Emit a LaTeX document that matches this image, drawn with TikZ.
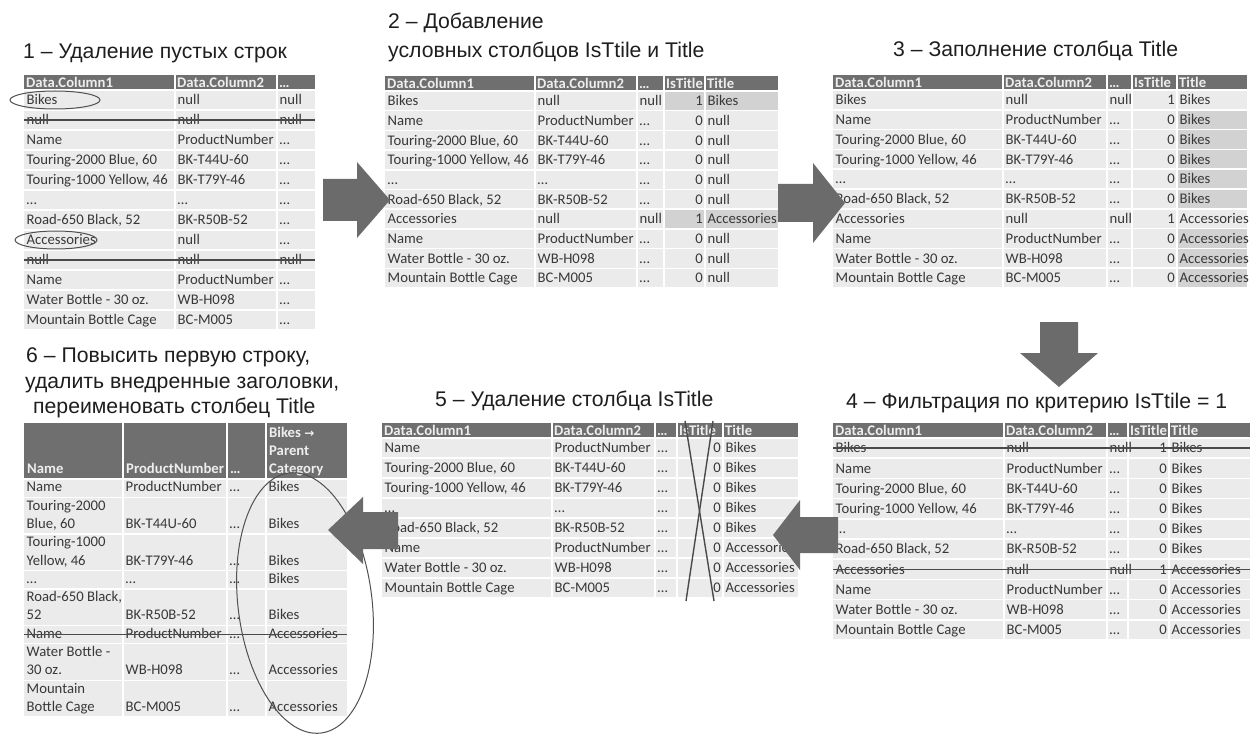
\documentclass[tikz,border=0pt]{standalone}
\usepackage{fontspec}
\newfontfamily\tabfont{Carlito}
\newfontfamily\titfont{Liberation Sans}
\newfontfamily\symfont{DejaVu Sans}
\definecolor{cellbg}{HTML}{EBEBEB}
\definecolor{hdrbg}{HTML}{6F6F6F}
\definecolor{hdrtxt}{HTML}{EEEEEE}
\definecolor{hlbg}{HTML}{D2D2D2}
\definecolor{txtc}{HTML}{383838}
\definecolor{strikec}{HTML}{4A4A4A}
\definecolor{arrc}{HTML}{6B6B6B}
\definecolor{ellc}{HTML}{505050}
\definecolor{ttlc}{HTML}{1E1E1E}
\tikzset{
  txt/.style={inner sep=0pt, font=\tabfont\fontsize{14.7}{17}\selectfont, text=txtc},
  hdr/.style={inner sep=0pt, font=\tabfont\bfseries\fontsize{14.7}{17}\selectfont, text=hdrtxt},
  ttl/.style={inner sep=0pt, font=\titfont\fontsize{21.2}{25}\selectfont, text=ttlc},
  sep/.style={white, line width=1.5pt},
  strk/.style={draw=strikec, line width=1.4pt},
  arr/.style={fill=arrc},
  ell/.style={draw=ellc, line width=1pt}
}
% table helpers
\newcommand\celltext[3]{\node[txt,anchor=base west] at ({#1+2.5},{\tT+\hH+(#2-0.5)*\rH+4.8}) {#3};}
\newcommand\celltextr[3]{\node[txt,anchor=base east] at ({#1-2},{\tT+\hH+(#2-0.5)*\rH+4.8}) {#3};}
\newcommand\hdrtext[2]{\node[hdr,anchor=base west] at ({#1+2},{\tT+\hH/2+4.8}) {#2};}
\newcommand\tabbg[3]{\fill[cellbg] (#1,{\tT+\hH}) rectangle (#2,{\tT+\hH+#3*\rH});
  \fill[hdrbg] (#1,\tT) rectangle (#2,{\tT+\hH});}
\newcommand\tabgrid[4]{\foreach \k in {0,...,#3}{\draw[sep] (#1,{\tT+\hH+\k*\rH}) -- (#2,{\tT+\hH+\k*\rH});}
  \foreach \xx in {#4}{\draw[sep] (\xx,\tT) -- (\xx,{\tT+\hH+#3*\rH});}}
\newcommand\hlcell[3]{\fill[hlbg] (#1,{\tT+\hH+(#3-1)*\rH}) rectangle (#2,{\tT+\hH+#3*\rH});}
\newcommand\strikerow[3]{\draw[strk] (#1,{\tT+\hH+(#3-0.5)*\rH}) -- (#2,{\tT+\hH+(#3-0.5)*\rH});}
\newcommand\rowIII[4]{\celltext{\colA}{#1}{#2}\celltext{\colB}{#1}{#3}\celltext{\colC}{#1}{#4}}
\newcommand\rowV[6]{\celltext{\colA}{#1}{#2}\celltext{\colB}{#1}{#3}\celltext{\colC}{#1}{#4}\celltextr{\colE}{#1}{#5}\celltext{\colE}{#1}{#6}}
\newcommand\hdrV{\hdrtext{\colA}{Data.Column1}\hdrtext{\colB}{Data.Column2}\hdrtext{\colC}{…}\hdrtext{\colD}{IsTitle}\hdrtext{\colE}{Title}}
\newcommand\sixcell[3]{\node[txt,anchor=base west] at ({#1+2.5},#2) {#3};}
\begin{document}
\begin{tikzpicture}[x=1pt,y=-1pt]
\fill[white] (0,0) rectangle (1252,735);
\useasboundingbox (0,0) rectangle (1252,735);

% ---------- titles
\node[ttl,anchor=base west] (t1) at (23,59) {1 – Удаление пустых строк};
\node[ttl,anchor=base west] (t2a) at (388,29) {2 – Добавление};
\node[ttl,anchor=base west] (t2b) at (388,58) {условных столбцов IsTtile и Title};
\node[ttl,anchor=base west] (t3) at (893,57) {3 – Заполнение столбца Title};
\node[ttl,anchor=base west] (t4) at (846,408) {4 – Фильтрация по критерию IsTtile = 1};
\node[ttl,anchor=base west] (t5) at (435,406) {5 – Удаление столбца IsTitle};
\node[ttl,anchor=base west] (t6a) at (26,362) {6 – Повысить первую строку,};
\node[ttl,anchor=base west] (t6b) at (25,388) {удалить внедренные заголовки,};
\node[ttl,anchor=base west] (t6c) at (33,413) {переименовать столбец Title};

% ---------- table 1
\def\tT{75}\def\hH{15}\def\rH{20}
\def\colA{24}\def\colB{175}\def\colC{277}
\tabbg{24}{315}{12}
\tabgrid{24}{315}{12}{175,277}
\hdrtext{\colA}{Data.Column1}\hdrtext{\colB}{Data.Column2}\hdrtext{\colC}{…}
\rowIII{1}{Bikes}{null}{null}
\rowIII{2}{null}{null}{null}
\rowIII{3}{Name}{ProductNumber}{…}
\rowIII{4}{Touring-2000 Blue, 60}{BK-T44U-60}{…}
\rowIII{5}{Touring-1000 Yellow, 46}{BK-T79Y-46}{…}
\rowIII{6}{…}{…}{…}
\rowIII{7}{Road-650 Black, 52}{BK-R50B-52}{…}
\rowIII{8}{Accessories}{null}{…}
\rowIII{9}{null}{null}{null}
\rowIII{10}{Name}{ProductNumber}{…}
\rowIII{11}{Water Bottle - 30 oz.}{WB-H098}{…}
\rowIII{12}{Mountain Bottle Cage}{BC-M005}{…}
\strikerow{24}{315}{2}
\strikerow{24}{315}{9}
\draw[ell] (55,100) ellipse [x radius=45pt, y radius=9pt];
\draw[ell] (56,240) ellipse [x radius=41pt, y radius=9pt];

% ---------- table 2
\def\tT{76}\def\hH{15}\def\rH{19.7}
\def\colA{385}\def\colB{535}\def\colC{637}\def\colD{664}\def\colE{705}
\tabbg{385}{778}{10}
\hlcell{664}{778}{1}\hlcell{664}{778}{7}
\tabgrid{385}{778}{10}{535,637,664,705}
\hdrV
\rowV{1}{Bikes}{null}{null}{1}{Bikes}
\rowV{2}{Name}{ProductNumber}{…}{0}{null}
\rowV{3}{Touring-2000 Blue, 60}{BK-T44U-60}{…}{0}{null}
\rowV{4}{Touring-1000 Yellow, 46}{BK-T79Y-46}{…}{0}{null}
\rowV{5}{…}{…}{…}{0}{null}
\rowV{6}{Road-650 Black, 52}{BK-R50B-52}{…}{0}{null}
\rowV{7}{Accessories}{null}{null}{1}{Accessories}
\rowV{8}{Name}{ProductNumber}{…}{0}{null}
\rowV{9}{Water Bottle - 30 oz.}{WB-H098}{…}{0}{null}
\rowV{10}{Mountain Bottle Cage}{BC-M005}{…}{0}{null}

% ---------- table 3
\def\tT{75}\def\hH{15}\def\rH{19.8}
\def\colA{833}\def\colB{1003}\def\colC{1107}\def\colD{1132}\def\colE{1177}
\tabbg{833}{1247}{10}
\foreach \r in {2,...,6}{\hlcell{1177}{1247}{\r}}
\foreach \r in {8,...,10}{\hlcell{1177}{1247}{\r}}
\tabgrid{833}{1247}{10}{1003,1107,1132,1177}
\hdrV
\rowV{1}{Bikes}{null}{null}{1}{Bikes}
\rowV{2}{Name}{ProductNumber}{…}{0}{Bikes}
\rowV{3}{Touring-2000 Blue, 60}{BK-T44U-60}{…}{0}{Bikes}
\rowV{4}{Touring-1000 Yellow, 46}{BK-T79Y-46}{…}{0}{Bikes}
\rowV{5}{…}{…}{…}{0}{Bikes}
\rowV{6}{Road-650 Black, 52}{BK-R50B-52}{…}{0}{Bikes}
\rowV{7}{Accessories}{null}{null}{1}{Accessories}
\rowV{8}{Name}{ProductNumber}{…}{0}{Accessories}
\rowV{9}{Water Bottle - 30 oz.}{WB-H098}{…}{0}{Accessories}
\rowV{10}{Mountain Bottle Cage}{BC-M005}{…}{0}{Accessories}

% ---------- table 4
\def\tT{423}\def\hH{15}\def\rH{20.2}
\def\colA{833}\def\colB{1004}\def\colC{1107}\def\colD{1128}\def\colE{1169}
\tabbg{833}{1250}{10}
\tabgrid{833}{1250}{10}{1004,1107,1128,1169}
\hdrV
\rowV{1}{Bikes}{null}{null}{1}{Bikes}
\rowV{2}{Name}{ProductNumber}{…}{0}{Bikes}
\rowV{3}{Touring-2000 Blue, 60}{BK-T44U-60}{…}{0}{Bikes}
\rowV{4}{Touring-1000 Yellow, 46}{BK-T79Y-46}{…}{0}{Bikes}
\rowV{5}{…}{…}{…}{0}{Bikes}
\rowV{6}{Road-650 Black, 52}{BK-R50B-52}{…}{0}{Bikes}
\rowV{7}{Accessories}{null}{null}{1}{Accessories}
\rowV{8}{Name}{ProductNumber}{…}{0}{Accessories}
\rowV{9}{Water Bottle - 30 oz.}{WB-H098}{…}{0}{Accessories}
\rowV{10}{Mountain Bottle Cage}{BC-M005}{…}{0}{Accessories}
\strikerow{833}{1250}{1}
\strikerow{833}{1250}{7}

% ---------- table 5
\def\tT{423}\def\hH{15}\def\rH{20}
\def\colA{382}\def\colB{552}\def\colC{655}\def\colD{677}\def\colE{723}
\tabbg{382}{798}{8}
\tabgrid{382}{798}{8}{552,655,677,723}
\hdrV
\rowV{1}{Name}{ProductNumber}{…}{0}{Bikes}
\rowV{2}{Touring-2000 Blue, 60}{BK-T44U-60}{…}{0}{Bikes}
\rowV{3}{Touring-1000 Yellow, 46}{BK-T79Y-46}{…}{0}{Bikes}
\rowV{4}{…}{…}{…}{0}{Bikes}
\rowV{5}{Road-650 Black, 52}{BK-R50B-52}{…}{0}{Bikes}
\rowV{6}{Name}{ProductNumber}{…}{0}{Accessories}
\rowV{7}{Water Bottle - 30 oz.}{WB-H098}{…}{0}{Accessories}
\rowV{8}{Mountain Bottle Cage}{BC-M005}{…}{0}{Accessories}
\coordinate (xa1) at (685,421); \coordinate (xa2) at (714,601);
\coordinate (xb1) at (713,421); \coordinate (xb2) at (686,601);
\draw[strk] (xa1) -- (xa2);
\draw[strk] (xb1) -- (xb2);

% ---------- table 6
\fill[hdrbg] (24,423) rectangle (347,479);
\fill[cellbg] (24,479) rectangle (347,716.9);
\foreach \yy in {479,497.3,533.9,570.5,588.8,625.4,643.7,680.3,716.9}{\draw[sep] (24,\yy) -- (347,\yy);}
\foreach \xx in {123,227,266}{\draw[sep] (\xx,423) -- (\xx,716.9);}
\node[hdr,anchor=base west] at (27,473.5) {Name};
\node[hdr,anchor=base west] at (126,473.5) {ProductNumber};
\node[hdr,anchor=base west] at (230,473.5) {…};
\node[hdr,anchor=base west] at (269,437) {Bikes {\symfont\fontsize{12}{14}\selectfont →}};
\node[hdr,anchor=base west] at (269,455.3) {Parent};
\node[hdr,anchor=base west] at (269,473.6) {Category};
% rows
\sixcell{24}{491.8}{Name}\sixcell{123}{491.8}{ProductNumber}\sixcell{227}{491.8}{…}\sixcell{266}{491.8}{Bikes}
\sixcell{24}{510.1}{Touring-2000}\sixcell{24}{528.4}{Blue, 60}\sixcell{123}{528.4}{BK-T44U-60}\sixcell{227}{528.4}{…}\sixcell{266}{528.4}{Bikes}
\sixcell{24}{546.7}{Touring-1000}\sixcell{24}{565}{Yellow, 46}\sixcell{123}{565}{BK-T79Y-46}\sixcell{227}{565}{…}\sixcell{266}{565}{Bikes}
\sixcell{24}{583.3}{…}\sixcell{123}{583.3}{…}\sixcell{227}{583.3}{…}\sixcell{266}{583.3}{Bikes}
\sixcell{24}{601.6}{Road-650 Black,}\sixcell{24}{619.9}{52}\sixcell{123}{619.9}{BK-R50B-52}\sixcell{227}{619.9}{…}\sixcell{266}{619.9}{Bikes}
\sixcell{24}{638.2}{Name}\sixcell{123}{638.2}{ProductNumber}\sixcell{227}{638.2}{…}\sixcell{266}{638.2}{Accessories}
\sixcell{24}{656.5}{Water Bottle -}\sixcell{24}{674.8}{30 oz.}\sixcell{123}{674.8}{WB-H098}\sixcell{227}{674.8}{…}\sixcell{266}{674.8}{Accessories}
\sixcell{24}{693.1}{Mountain}\sixcell{24}{711.4}{Bottle Cage}\sixcell{123}{711.4}{BC-M005}\sixcell{227}{711.4}{…}\sixcell{266}{711.4}{Accessories}
\draw[strk] (24,634.5) -- (347,634.5);
\draw[ell, rotate around={7:(305,603)}] (305,603) ellipse [x radius=67pt, y radius=131pt];

% ---------- arrows
\fill[arr] (323,179) -- (357,179) -- (357,162) -- (390,200) -- (357,238) -- (357,221) -- (323,221) -- cycle;
\fill[arr] (778,184) -- (813,184) -- (813,163) -- (845,203) -- (813,243) -- (813,222) -- (778,222) -- cycle;
\fill[arr] (1040,322) -- (1040,353) -- (1020,353) -- (1059,387) -- (1098,353) -- (1078,353) -- (1078,322) -- cycle;
\fill[arr] (838,517) -- (800,517) -- (800,500) -- (773,535) -- (800,570) -- (800,553) -- (838,553) -- cycle;
\fill[arr] (398,512) -- (363,512) -- (363,497) -- (328,530) -- (363,564) -- (363,549) -- (398,549) -- cycle;
\end{tikzpicture}
\end{document}
